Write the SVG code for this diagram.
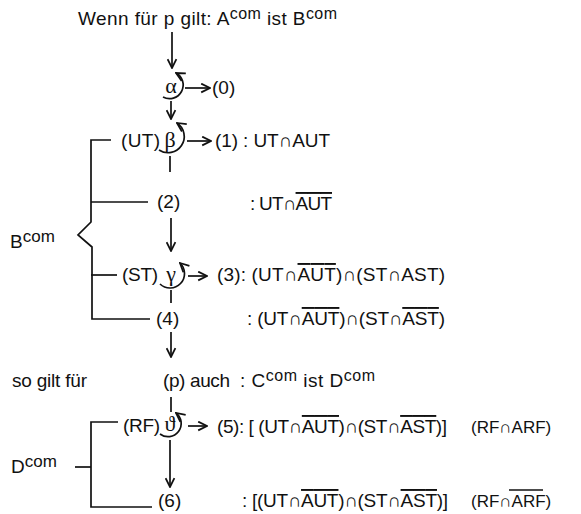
<svg xmlns="http://www.w3.org/2000/svg" width="581" height="514" viewBox="0 0 581 514">
  <style>
    text { font-family: "Liberation Sans", Arial, sans-serif; font-size: 19px; fill: #111; }
    .gr { font-family: "Liberation Serif", "DejaVu Serif", serif; font-size: 22px; text-anchor: middle; }
    .sup { font-size: 16px; }
    .lbl .sup { font-size: 17px; }
    .rf { font-size: 17px; }
    .ov { text-decoration: overline; }
    .bar { stroke: #111; stroke-width: 1.3; }
    .ln { stroke: #111; stroke-width: 1.7; fill: none; }
    .arr { stroke: #111; stroke-width: 1.7; fill: none; marker-end: url(#head); }
  </style>
  <defs>
    <marker id="head" viewBox="0 0 10 10" refX="9" refY="5" markerWidth="11" markerHeight="11" markerUnits="userSpaceOnUse" orient="auto">
      <path d="M1,1 L9,5 L1,9" fill="none" stroke="#111" stroke-width="1.6"/>
    </marker>
  </defs>

  <!-- premise -->
  <g id="premise">
    <text x="78" y="25" textLength="259">Wenn für p gilt: A<tspan class="sup" dy="-6">com</tspan><tspan dy="6"> ist B</tspan><tspan class="sup" dy="-6">com</tspan></text>
  </g>

  <!-- alpha -->
  <g id="alpha">
    <text class="gr" x="171" y="93">α</text>
    <path class="arr" d="M163,97 A13,13 0 1 0 176,73"/>
    <text x="212" y="94">(0)</text>
  </g>

  <!-- beta, row (1) -->
  <g id="beta">
    <text x="121" y="147" textLength="39">(UT)</text>
    <text class="gr" x="170" y="147">β</text>
    <path class="arr" d="M159,150 A14,14 0 1 0 177,123"/>
    <text x="215" y="147" textLength="115">(1) : UT∩AUT</text>
  </g>

  <!-- row (2) -->
  <g id="row2">
    <text x="157" y="208">(2)</text>
    <text x="250" y="210" textLength="82">: UT∩<tspan class="ov">AUT</tspan></text>
  </g>

  <!-- gamma, row (3) -->
  <g id="gamma">
    <text x="122" y="281" textLength="36">(ST)</text>
    <text class="gr" x="171" y="281">γ</text>
    <path class="arr" d="M160,284 A13,13 0 1 0 180,263"/>
    <text x="217" y="281" textLength="228">(3): (UT∩<tspan class="ov">AUT</tspan>)∩(ST∩AST)</text>
  </g>

  <!-- row (4) -->
  <g id="row4">
    <text x="156" y="325">(4)</text>
    <text x="247" y="325" textLength="198">: (UT∩<tspan class="ov">AUT</tspan>)∩(ST∩<tspan class="ov">AST</tspan>)</text>
  </g>

  <!-- conclusion -->
  <g id="conclusion">
    <text x="12" y="387" textLength="75">so gilt für</text>
    <text x="163" y="387" textLength="67">(p) auch</text>
    <text x="240" y="387" textLength="135">: C<tspan class="sup" dy="-6">com</tspan><tspan dy="6"> ist D</tspan><tspan class="sup" dy="-6">com</tspan></text>
  </g>

  <!-- theta, row (5) -->
  <g id="theta">
    <text x="123" y="432" textLength="37">(RF)</text>
    <text class="gr" x="170" y="431">ϑ</text>
    <path class="arr" d="M160,434 A13,13 0 1 0 176,413"/>
    <text x="217" y="433" textLength="230">(5): [ (UT∩<tspan class="ov">AUT</tspan>)∩(ST∩<tspan class="ov">AST</tspan>)]</text>
    <text class="rf" x="471" y="433">(RF∩ARF)</text>
  </g>

  <!-- row (6) -->
  <g id="row6">
    <text x="158" y="507">(6)</text>
    <text x="242" y="507" textLength="206">: [(UT∩<tspan class="ov">AUT</tspan>)∩(ST∩<tspan class="ov">AST</tspan>)]</text>
    <text class="rf" x="471" y="507">(RF∩ARF)</text>
    <line class="bar" x1="509" y1="490" x2="543" y2="490"/>
  </g>

  <!-- set labels -->
  <g id="bcom" class="lbl">
    <text x="10" y="248">B<tspan class="sup" dy="-6">com</tspan></text>
  </g>
  <g id="dcom" class="lbl">
    <text x="11" y="473">D<tspan class="sup" dy="-6">com</tspan></text>
  </g>

  <!-- connectors -->
  <g id="connectors">
    <line class="arr" x1="172" y1="32" x2="172" y2="68"/>
    <line class="arr" x1="185" y1="88" x2="210" y2="88"/>
    <line class="arr" x1="171" y1="101" x2="171" y2="119"/>
    <line class="arr" x1="187" y1="141" x2="211" y2="141"/>
    <line class="ln" x1="170" y1="156" x2="170" y2="172"/>
    <line class="arr" x1="171" y1="218" x2="171" y2="251"/>
    <line class="arr" x1="188" y1="276" x2="207" y2="276"/>
    <line class="ln" x1="171" y1="290" x2="171" y2="303"/>
    <line class="arr" x1="171" y1="332" x2="171" y2="357"/>
    <line class="ln" x1="171" y1="397" x2="171" y2="412"/>
    <line class="arr" x1="188" y1="426" x2="207" y2="426"/>
    <line class="arr" x1="170" y1="440" x2="170" y2="487"/>
    <!-- B brace -->
    <path class="ln" d="M111,140 H91 V222 L78,235 L92,247 V319 H150"/>
    <line class="ln" x1="91" y1="202" x2="148" y2="202"/>
    <line class="ln" x1="91" y1="275" x2="117" y2="275"/>
    <!-- D brace -->
    <path class="ln" d="M118,422 H91 V507 H152"/>
    <line class="ln" x1="75" y1="467" x2="91" y2="467"/>
  </g>
</svg>
